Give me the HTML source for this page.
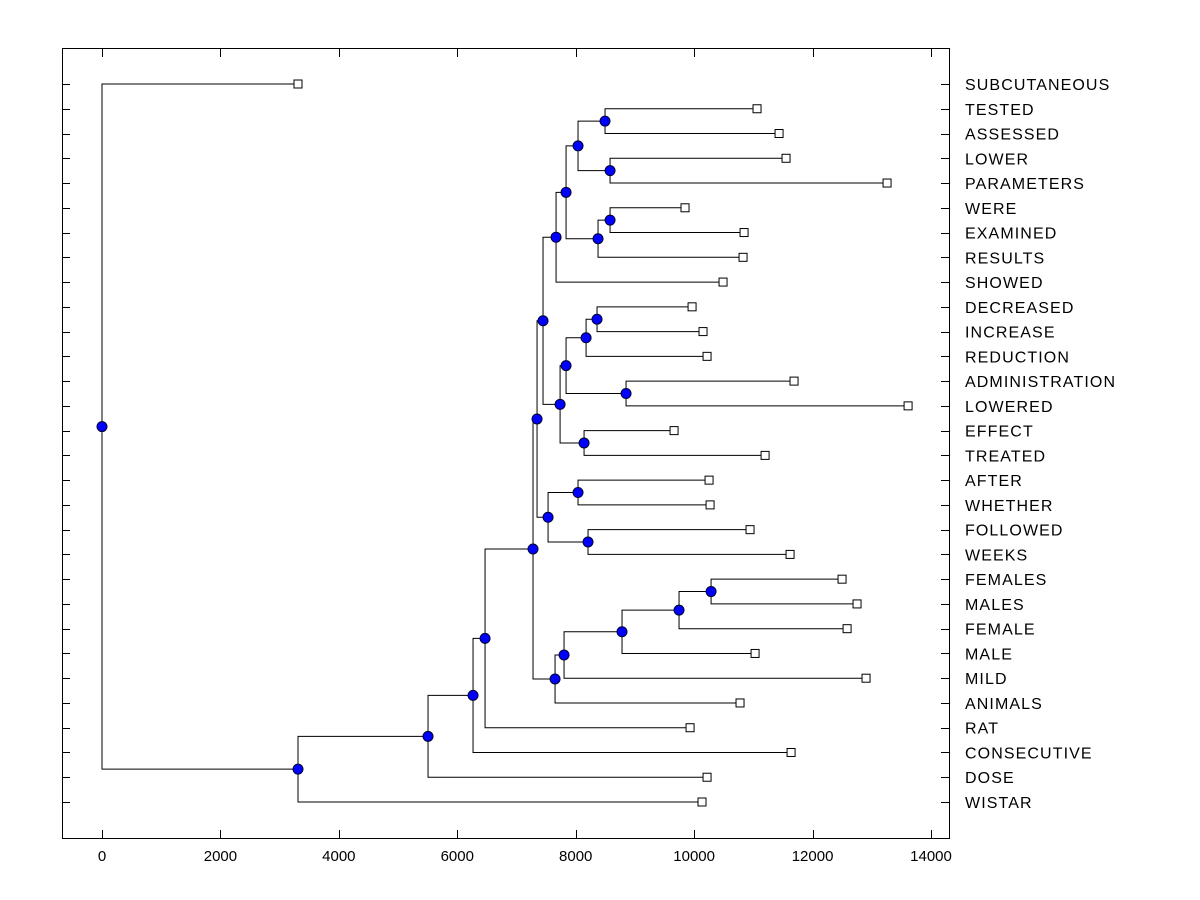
<!DOCTYPE html>
<html><head><meta charset="utf-8"><style>
html,body{margin:0;padding:0;background:#fff;}
svg{display:block;font-family:"Liberation Sans",Arial,sans-serif;}
</style></head><body>
<svg id="chart" width="1200" height="900" viewBox="0 0 1200 900" xmlns="http://www.w3.org/2000/svg">
<rect x="0" y="0" width="1200" height="900" fill="#fff"/>
<rect x="62.5" y="48.5" width="887" height="790" fill="none" stroke="#000" stroke-width="1"/>
<g id="ticks"></g>
<g id="links"></g>
<g id="marks"></g>
<g id="labels"></g>
</svg>
<script>
const leafLabels = ["SUBCUTANEOUS","TESTED","ASSESSED","LOWER","PARAMETERS","WERE","EXAMINED","RESULTS","SHOWED","DECREASED","INCREASE","REDUCTION","ADMINISTRATION","LOWERED","EFFECT","TREATED","AFTER","WHETHER","FOLLOWED","WEEKS","FEMALES","MALES","FEMALE","MALE","MILD","ANIMALS","RAT","CONSECUTIVE","DOSE","WISTAR"];
const leafValues = [3310,11062,11434,11552,13258,9846,10843,10826,10488,9965,10150,10218,11687,13613,9661,11198,10252,10269,10944,11620,12498,12751,12583,11029,12903,10775,9931,11637,10218,10133];
const nodeNames = ["root","a","b","c","d","e","f","g","h","i","j","k","l","m","n","o","p","q","r","s","t","u","v","w","x","y","z","aa","bb"];
const nodeValues = [0,3310,5506,6266,6469,7279,7347,7651,7803,8782,9745,10286,7448,7533,8039,8208,7668,7736,7837,8141,8175,8850,8360,7837,8039,8377,8580,8495,8580];
const nodeChildren = [[0,"a"],["b",29],["c",28],["d",27],["e",26],["f","g"],["l","m"],["h",25],["i",24],["j",23],["k",22],[20,21],["p","q"],["n","o"],[16,17],[18,19],["w",8],["r","s"],["t","u"],[14,15],["v",11],[12,13],[9,10],["x","y"],["aa","bb"],["z",7],[5,6],[1,2],[3,4]];
const xTicks = [0,2000,4000,6000,8000,10000,12000,14000];

const NS="http://www.w3.org/2000/svg";
const X0=102, X1=931, VMAX=14000;
const xs = v => X0 + v*(X1-X0)/VMAX;
const Y0=84, YN=802;
const ys = i => Y0 + i*(YN-Y0)/(leafLabels.length-1);
function mk(tag, attrs, parent){const e=document.createElementNS(NS,tag);for(const k in attrs)e.setAttribute(k,attrs[k]);parent.appendChild(e);return e;}
const gT=document.getElementById('ticks'), gL=document.getElementById('links'), gM=document.getElementById('marks'), gX=document.getElementById('labels');

xTicks.forEach(t=>{
  const x=Math.round(xs(t))+0.5;
  let e=mk('line',{x1:x,y1:49,x2:x,y2:57,stroke:'#000'},gT);
  
  
  e=mk('line',{x1:x,y1:838,x2:x,y2:830,stroke:'#000'},gT);
  
  
  e=mk('text',{x:xs(t),y:861,'font-size':'15','text-anchor':'middle',fill:'#000'},gT);
  e.textContent=t;
  
  
});
leafLabels.forEach((l,i)=>{
  const y=Math.round(ys(i))+0.5;
  let e=mk('line',{x1:62,y1:y,x2:70,y2:y,stroke:'#000'},gT);
  
  
  e=mk('line',{x1:949,y1:y,x2:941,y2:y,stroke:'#000'},gT);
  
  
  e=mk('text',{x:965,y:ys(i)+6,'font-size':'16','letter-spacing':'1.1',fill:'#000'},gX);
  e.textContent=l;
  
  
});

const idx={}; nodeNames.forEach((n,i)=>idx[n]=i);
const nodeY={};
function posOf(c){
  if(typeof c==='number') return {x:xs(leafValues[c]), y:ys(c)};
  const i=idx[c]; return {x:xs(nodeValues[i]), y:yOfNode(c)};
}
function yOfNode(n){
  if(nodeY[n]!==undefined) return nodeY[n];
  const ch=nodeChildren[idx[n]];
  const y=(posOf(ch[0]).y+posOf(ch[1]).y)/2;
  nodeY[n]=y; return y;
}
const circles=[], squares=[];
nodeNames.forEach((n,i)=>{
  const x=xs(nodeValues[i]), y=yOfNode(n);
  const ch=nodeChildren[i];
  ch.forEach(c=>{
    const p=posOf(c);
    const e=mk('polyline',{points:`${x},${y} ${x},${p.y} ${p.x},${p.y}`,fill:'none',stroke:'#000','stroke-width':1},gL);
    
    
    if(typeof c==='number') squares.push(p);
  });
  circles.push({x,y});
});
circles.forEach(p=>{
  const e=mk('circle',{cx:p.x,cy:p.y,r:5,fill:'#0000ff',stroke:'#000030','stroke-width':1},gM);
  
  
});
squares.forEach(p=>{
  const e=mk('rect',{x:p.x-4,y:p.y-4,width:8,height:8,fill:'#fff',stroke:'#000','stroke-width':1},gM);
  
  
});
</script>
</body></html>
